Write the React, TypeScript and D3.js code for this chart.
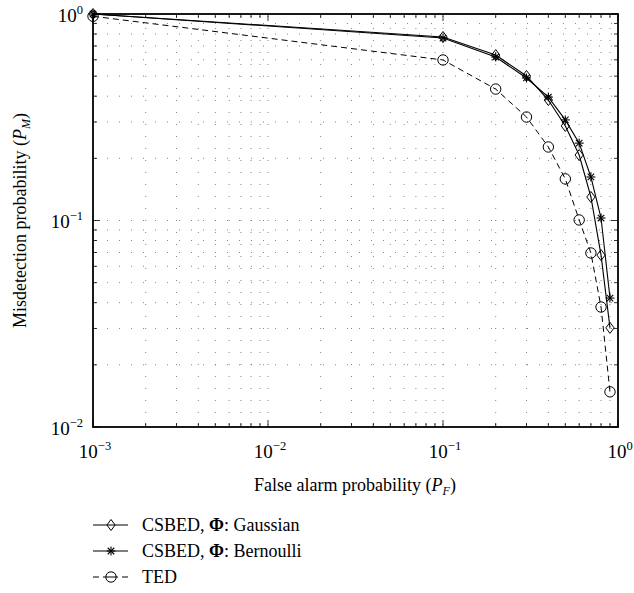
import React from "react";
import * as d3 from "d3";

const pf = [0.001, 0.1, 0.2, 0.3, 0.4, 0.5, 0.6, 0.7, 0.8, 0.9];
const gaussian = [1.0, 0.774, 0.633, 0.501, 0.383, 0.287, 0.2075, 0.13, 0.068, 0.0302];
const bernoulli = [1.0, 0.765, 0.619, 0.49, 0.396, 0.307, 0.237, 0.1625, 0.1028, 0.0421];
const ted = [0.975, 0.599, 0.433, 0.317, 0.227, 0.159, 0.1006, 0.0696, 0.0381, 0.0148];
const xTickExps = [-3, -2, -1, 0];
const yTickExps = [-2, -1, 0];
const legendLabels = ["Gaussian", "Bernoulli", "TED"];

const W = 634, H = 593;
const L = 93, R = 618, T = 14, B = 427;
const TS: React.CSSProperties = { fontFamily: "Liberation Serif" };

function Diamond({ x, y }: { x: number; y: number }) {
  const s = 5.5;
  return <path d={`M${x},${y - s}L${x + s * 0.75},${y}L${x},${y + s}L${x - s * 0.75},${y}Z`} fill="none" stroke="#000" strokeWidth={1} />;
}
function Star({ x, y }: { x: number; y: number }) {
  const s = 4.5;
  const d = s * 0.72;
  return (
    <g stroke="#000" strokeWidth={1.1}>
      <line x1={x} y1={y - s} x2={x} y2={y + s} />
      <line x1={x - s} y1={y} x2={x + s} y2={y} />
      <line x1={x - d} y1={y - d} x2={x + d} y2={y + d} />
      <line x1={x - d} y1={y + d} x2={x + d} y2={y - d} />
    </g>
  );
}
function Circle({ x, y }: { x: number; y: number }) {
  return <circle cx={x} cy={y} r={5.2} fill="none" stroke="#000" strokeWidth={1} />;
}

function Pow({ e }: { e: number }) {
  return (
    <>
      10<tspan dy={-8} fontSize={12.5}>{e === 0 ? "0" : "\u2212" + Math.abs(e)}</tspan>
    </>
  );
}

export default function App() {
  const x = d3.scaleLog().domain([1e-3, 1]).range([L, R]);
  const y = d3.scaleLog().domain([1e-2, 1]).range([B, T]);
  const line = (ys: number[]) =>
    d3.line<number>().x((_, i) => x(pf[i])).y((v) => y(v))(ys) || "";

  const xMinor: number[] = [];
  for (let e = -3; e < 0; e++) for (let k = 2; k <= 9; k++) xMinor.push(k * Math.pow(10, e));
  const yMinor: number[] = [];
  for (let e = -2; e < 0; e++) for (let k = 2; k <= 9; k++) yMinor.push(k * Math.pow(10, e));
  const xMajor = xTickExps.map((e) => Math.pow(10, e));
  const yMajor = yTickExps.map((e) => Math.pow(10, e));

  const grid = "1,11";

  return (
    <svg width={W} height={H} style={{ position: "absolute", left: 0, top: 0, background: "#fff" }}>
      <rect x={0} y={0} width={W} height={H} fill="#fff" />
      {/* grid */}
      <g stroke="#777" strokeWidth={0.9}>
        {[...xMinor, ...xMajor.slice(1, -1)].map((v, i) => (
          <line key={"gx" + i} x1={x(v)} x2={x(v)} y1={B - 2} y2={T} strokeDasharray={grid} />
        ))}
        {[...yMinor, ...yMajor.slice(1, -1)].map((v, i) => (
          <line key={"gy" + i} x1={L + 2} x2={R} y1={y(v)} y2={y(v)} strokeDasharray={grid} />
        ))}
      </g>
      {/* ticks */}
      <g stroke="#000" strokeWidth={0.8}>
        {xMinor.map((v, i) => (
          <g key={"tx" + i}>
            <line x1={x(v)} x2={x(v)} y1={B} y2={B - 4} />
            <line x1={x(v)} x2={x(v)} y1={T} y2={T + 4} />
          </g>
        ))}
        {xMajor.map((v, i) => (
          <g key={"txm" + i}>
            <line x1={x(v)} x2={x(v)} y1={B} y2={B - 7} />
            <line x1={x(v)} x2={x(v)} y1={T} y2={T + 7} />
          </g>
        ))}
        {yMinor.map((v, i) => (
          <g key={"ty" + i}>
            <line x1={L} x2={L + 4} y1={y(v)} y2={y(v)} />
            <line x1={R} x2={R - 4} y1={y(v)} y2={y(v)} />
          </g>
        ))}
        {yMajor.map((v, i) => (
          <g key={"tym" + i}>
            <line x1={L} x2={L + 7} y1={y(v)} y2={y(v)} />
            <line x1={R} x2={R - 7} y1={y(v)} y2={y(v)} />
          </g>
        ))}
      </g>
      <rect x={L} y={T} width={R - L} height={B - T} fill="none" stroke="#000" strokeWidth={1.8} />
      {/* lines */}
      <path d={line(gaussian)} fill="none" stroke="#000" strokeWidth={1.1} />
      <path d={line(bernoulli)} fill="none" stroke="#000" strokeWidth={1.1} />
      <path d={line(ted)} fill="none" stroke="#000" strokeWidth={1} strokeDasharray="6,4" />
      {gaussian.map((v, i) => <Diamond key={"d" + i} x={x(pf[i])} y={y(v)} />)}
      {bernoulli.map((v, i) => <Star key={"s" + i} x={x(pf[i])} y={y(v)} />)}
      {ted.map((v, i) => <Circle key={"c" + i} x={x(pf[i])} y={y(v)} />)}
      {/* tick labels */}
      {xTickExps.map((e) => (
        <text key={"xl" + e} x={x(Math.pow(10, e)) + 2} y={458} textAnchor="middle" fontSize={19} style={TS}>
          <Pow e={e} />
        </text>
      ))}
      {yTickExps.map((e) => (
        <text key={"yl" + e} x={L - 10} y={y(Math.pow(10, e)) + 7.5} textAnchor="end" fontSize={19} style={TS}>
          <Pow e={e} />
        </text>
      ))}
      {/* axis titles */}
      <text x={355} y={491} textAnchor="middle" fontSize={18} style={TS}>
        False alarm probability (<tspan fontStyle="italic">P</tspan><tspan fontStyle="italic" fontSize={12} dy={4}>F</tspan><tspan dy={-4}>)</tspan>
      </text>
      <text transform={`translate(26,${(T + B) / 2}) rotate(-90)`} textAnchor="middle" fontSize={18} style={TS}>
        Misdetection probability (<tspan fontStyle="italic">P</tspan><tspan fontStyle="italic" fontSize={12} dy={4}>M</tspan><tspan dy={-4}>)</tspan>
      </text>
      {/* legend */}
      {legendLabels.map((lab, i) => {
        const ly = 525 + i * 26;
        return (
          <g key={"lg" + i}>
            {i < 2 ? (
              <line x1={93} x2={128} y1={ly} y2={ly} stroke="#000" strokeWidth={1.1} />
            ) : (
              <line x1={93} x2={128} y1={ly} y2={ly} stroke="#000" strokeWidth={1} strokeDasharray="6,4,15,4,6" />
            )}
            {i === 0 && <Diamond x={111} y={ly} />}
            {i === 1 && <Star x={111} y={ly} />}
            {i === 2 && <Circle x={111} y={ly} />}
            <text x={142} y={ly + 6} fontSize={18} style={TS}>
              {i < 2 ? (
                <>
                  CSBED, <tspan fontWeight="bold">Φ</tspan>: {lab}
                </>
              ) : (
                lab
              )}
            </text>
          </g>
        );
      })}
    </svg>
  );
}
